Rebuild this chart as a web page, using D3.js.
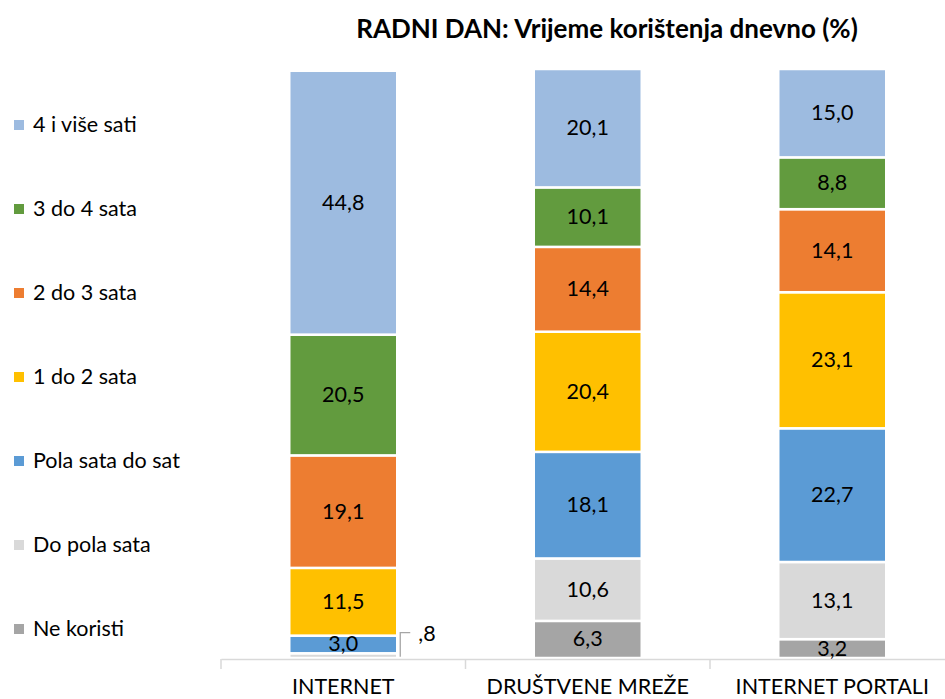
<!DOCTYPE html>
<html>
<head>
<meta charset="utf-8">
<script src="https://cdn.jsdelivr.net/npm/d3@7"></script>
<style>
  body { margin: 0; background: #fff; }
  text { font-family: Lato, "Open Sans", sans-serif; fill: #000; }
</style>
</head>
<body>
<div id="chart"></div>
<script>
// Categories and series (bottom to top of stack)
const categories = ["INTERNET", "DRUŠTVENE MREŽE", "INTERNET PORTALI"];
const seriesKeys = ["Ne koristi", "Do pola sata", "Pola sata do sat", "1 do 2 sata", "2 do 3 sata", "3 do 4 sata", "4 i više sati"];
const neKoristi   = [0,    6.3,  3.2];
const doPola      = [0.8,  10.6, 13.1];
const polaDoSat   = [3.0,  18.1, 22.7];
const jedanDoDva  = [11.5, 20.4, 23.1];
const dvaDoTri    = [19.1, 14.4, 14.1];
const triDoCetiri = [20.5, 10.1, 8.8];
const cetiriViše  = [44.8, 20.1, 15.0];
const colors = ["#a5a5a5", "#d9d9d9", "#5b9bd5", "#ffc000", "#ed7d31", "#629b3e", "#9dbbe0"];

const width = 945, height = 699;
const fontSize = 21.5;

const data = categories.map((c, i) => ({
  cat: c,
  "Ne koristi": neKoristi[i],
  "Do pola sata": doPola[i],
  "Pola sata do sat": polaDoSat[i],
  "1 do 2 sata": jedanDoDva[i],
  "2 do 3 sata": dvaDoTri[i],
  "3 do 4 sata": triDoCetiri[i],
  "4 i više sati": cetiriViše[i]
}));

const svg = d3.select("#chart")
  .append("svg")
    .attr("width", width)
    .attr("height", height);

// Scales
const xScale = d3.scaleBand()
  .domain(categories)
  .range([221, 954.5])
  .paddingInner(0)
  .paddingOuter(0);
const barWidth = 108;

const yScale = d3.scaleLinear()
  .domain([0, 100])
  .range([658, 69]);

const colorScale = d3.scaleOrdinal()
  .domain(seriesKeys)
  .range(colors);

// Title
svg.append("text")
  .attr("x", 607)
  .attr("y", 38)
  .attr("text-anchor", "middle")
  .attr("font-size", 26)
  .attr("font-weight", "bold")
  .text("RADNI DAN: Vrijeme korištenja dnevno (%)");

// Stack
const stackedData = d3.stack().keys(seriesKeys)(data);

stackedData.forEach(layer => {
  svg.selectAll(`.bar-${layer.index}`)
    .data(layer)
    .join("rect")
      .attr("class", `bar-${layer.index}`)
      .attr("x", d => xScale(d.data.cat) + xScale.bandwidth() / 2 - barWidth / 2)
      .attr("y", d => yScale(d[1]))
      .attr("width", barWidth)
      .attr("height", d => Math.max(0, yScale(d[0]) - yScale(d[1])))
      .attr("fill", colorScale(layer.key))
      .attr("stroke", "#fff")
      .attr("stroke-width", 2.5);
});

// Bottom axis
const axis = svg.append("g")
  .attr("transform", `translate(0, 659)`)
  .call(d3.axisBottom(xScale).tickSize(0).tickPadding(20));
axis.select(".domain").attr("stroke", "#d9d9d9").attr("stroke-width", 1.5);
axis.selectAll("text")
  .attr("font-size", fontSize)
  .attr("font-family", "Lato, sans-serif")
  .attr("fill", "#000");
axis.selectAll(".sep")
  .data(categories.concat(["end"]))
  .join("line")
    .attr("class", "sep")
    .attr("x1", (d, i) => 221 + i * xScale.bandwidth())
    .attr("x2", (d, i) => 221 + i * xScale.bandwidth())
    .attr("y1", 0)
    .attr("y2", 10)
    .attr("stroke", "#d9d9d9")
    .attr("stroke-width", 1.5);

// Data labels
stackedData.forEach(layer => {
  layer.forEach(d => {
    const v = d[1] - d[0];
    if (v <= 0) return;
    const cx = xScale(d.data.cat) + xScale.bandwidth() / 2;
    const cy = (yScale(d[0]) + yScale(d[1])) / 2;
    const label = d3.format(".1f")(v).replace(".", ",");
    if (v < 2) {
      // small value placed outside with leader line
      const x0 = cx + barWidth / 2 + 3;
      const yTop = cy - 23;
      svg.append("path")
        .attr("d", `M${x0},${cy + 1}V${yTop}H${x0 + 10}`)
        .attr("fill", "none")
        .attr("stroke", "#a6a6a6")
        .attr("stroke-width", 1.3);
      svg.append("text")
        .attr("x", x0 + 18)
        .attr("y", yTop + 8)
        .attr("font-size", fontSize)
        .text(label.replace(/^0/, ""));
    } else {
      svg.append("text")
        .attr("x", cx)
        .attr("y", cy + 7)
        .attr("text-anchor", "middle")
        .attr("font-size", fontSize)
        .text(label);
    }
  });
});

// Legend
const legendKeys = seriesKeys.slice().reverse();
const legend = svg.selectAll(".legend")
  .data(legendKeys)
  .join("g")
    .attr("class", "legend")
    .attr("transform", (d, i) => `translate(14, ${125 + i * 84})`);
legend.append("rect")
  .attr("x", 0)
  .attr("y", -5)
  .attr("width", 10)
  .attr("height", 10)
  .attr("fill", d => colorScale(d));
legend.append("text")
  .attr("x", 19)
  .attr("y", 7)
  .attr("font-size", fontSize)
  .text(d => d);
</script>
</body>
</html>
